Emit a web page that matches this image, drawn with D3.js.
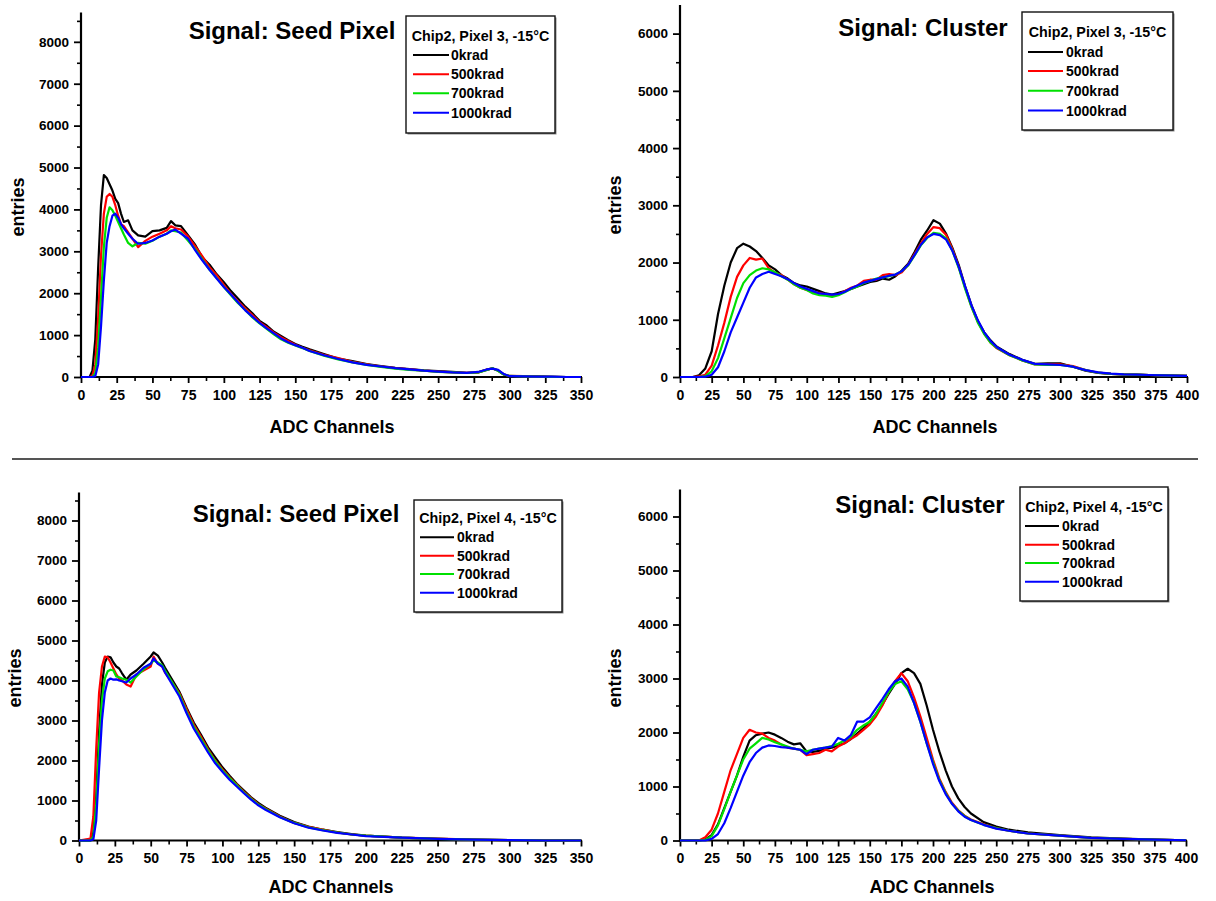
<!DOCTYPE html>
<html>
<head>
<meta charset="utf-8">
<script src="https://cdn.jsdelivr.net/npm/d3@7"></script>
<style>
  html, body { margin: 0; padding: 0; background: #fff; }
  svg { display: block; }
</style>
</head>
<body>
<svg id="chart" width="1216" height="901"></svg>
<script>
// ---------------- DATA ----------------
const seriesNames = ["0krad", "500krad", "700krad", "1000krad"];
const xAxisLabel = "ADC Channels";
const yAxisLabel = "entries";
const titleSeed = "Signal: Seed Pixel";
const titleCluster = "Signal: Cluster";
const legendTitleP3 = "Chip2, Pixel 3, -15°C";
const legendTitleP4 = "Chip2, Pixel 4, -15°C";
const seedXTicks = [0, 25, 50, 75, 100, 125, 150, 175, 200, 225, 250, 275, 300, 325, 350];
const clusterXTicks = [0, 25, 50, 75, 100, 125, 150, 175, 200, 225, 250, 275, 300, 325, 350, 375, 400];
const seedYTicks = [0, 1000, 2000, 3000, 4000, 5000, 6000, 7000, 8000];
const clusterYTicks = [0, 1000, 2000, 3000, 4000, 5000, 6000];

// Panel 1: Seed pixel, Pixel 3
const p1Channels = [0,6,8,10,12,14,16,18,20,22,24,26,28,30,33,36,40,45,50,55,60,63,66,70,75,80,85,90,95,100,105,110,115,120,125,130,135,140,145,150,155,160,170,180,190,200,210,220,230,240,250,260,270,278,284,288,292,296,300,310,320,330,340,350];
const p1Krad0 = [0,0,150,900,2600,4100,4820,4750,4600,4450,4250,4150,3900,3700,3740,3500,3380,3350,3480,3500,3560,3720,3620,3600,3380,3150,2850,2680,2450,2260,2050,1870,1680,1520,1340,1230,1080,980,880,790,720,660,550,440,380,310,260,220,190,160,140,120,100,110,170,210,150,60,20,15,15,5,0,0];
const p1Krad500 = [0,0,30,300,1400,2900,3900,4300,4370,4300,4100,3850,3650,3600,3450,3300,3100,3250,3350,3420,3500,3600,3550,3520,3350,3120,2880,2620,2430,2200,1980,1800,1640,1480,1310,1190,1060,950,860,770,700,640,530,450,360,300,250,210,180,150,130,110,100,110,180,200,160,60,25,20,10,5,0,0];
const p1Krad700 = [0,0,0,100,700,1900,3100,3800,4050,3980,3850,3700,3550,3400,3200,3120,3200,3180,3250,3350,3420,3500,3480,3450,3250,3050,2800,2560,2360,2150,1950,1760,1600,1420,1280,1150,1020,900,820,750,690,620,510,420,350,290,240,200,170,150,120,110,95,110,170,210,150,60,25,15,10,5,0,0];
const p1Krad1000 = [0,0,0,20,300,1200,2300,3200,3600,3850,3900,3800,3650,3550,3420,3300,3180,3200,3260,3350,3420,3480,3520,3420,3300,3020,2780,2560,2350,2150,1970,1780,1590,1440,1290,1160,1040,920,830,760,700,620,520,430,350,290,250,210,180,150,130,110,100,120,180,200,170,70,20,15,10,10,0,0];

// Panel 2: Cluster, Pixel 3
const p2Channels = [0,10,15,20,25,30,35,40,45,50,55,60,65,70,75,80,85,90,95,100,105,110,115,120,125,130,135,140,145,150,155,160,165,170,175,180,185,190,195,200,205,210,215,220,225,230,235,240,245,250,260,270,280,290,300,310,320,330,340,350,360,370,380,390,400];
const p2Krad0 = [0,0,30,150,450,1100,1600,2000,2250,2330,2280,2200,2080,1950,1880,1780,1720,1640,1600,1580,1540,1500,1460,1440,1470,1500,1540,1580,1620,1660,1680,1720,1700,1760,1860,1980,2180,2400,2560,2740,2680,2500,2250,1950,1580,1250,980,780,640,530,400,300,230,240,240,180,110,70,55,45,40,35,30,25,20];
const p2Krad500 = [0,0,10,40,200,550,950,1400,1750,1950,2080,2050,2070,1900,1820,1780,1700,1620,1560,1520,1480,1470,1440,1420,1440,1500,1560,1600,1680,1700,1700,1780,1800,1780,1830,1960,2150,2330,2500,2620,2600,2480,2230,1920,1560,1230,960,760,600,500,380,290,220,220,220,190,120,75,55,45,40,35,30,25,20];
const p2Krad700 = [0,0,0,15,100,330,680,1030,1380,1640,1780,1860,1900,1880,1830,1760,1700,1620,1560,1520,1460,1430,1420,1400,1430,1480,1540,1580,1640,1680,1720,1740,1760,1790,1850,1950,2120,2300,2430,2520,2500,2420,2200,1900,1540,1220,950,750,600,510,380,290,220,210,210,180,120,75,55,45,40,35,30,25,20];
const p2Krad1000 = [0,0,0,5,40,170,450,780,1040,1300,1560,1740,1800,1840,1800,1760,1710,1640,1580,1540,1500,1460,1450,1440,1450,1490,1550,1600,1650,1680,1710,1740,1770,1790,1850,1960,2130,2310,2440,2500,2480,2400,2200,1920,1580,1250,990,780,630,520,390,300,230,220,210,180,120,80,60,45,40,35,30,25,20];

// Panel 3: Seed pixel, Pixel 4
const p3Channels = [0,8,10,12,14,16,18,20,22,24,26,28,30,33,36,40,45,50,52,55,58,60,65,70,75,80,85,90,95,100,105,110,115,120,125,130,140,150,160,170,180,190,200,225,250,275,300,325,350];
const p3Krad0 = [0,0,200,1100,2700,3900,4450,4600,4580,4450,4350,4300,4180,4020,4150,4250,4420,4600,4700,4620,4450,4320,4020,3720,3320,2950,2650,2330,2080,1830,1620,1420,1250,1080,940,820,620,460,350,270,210,160,120,70,40,20,10,0,0];
const p3Krad500 = [0,50,600,2300,3700,4350,4600,4580,4450,4300,4150,4050,4000,3900,3850,4150,4250,4350,4600,4420,4350,4200,3950,3680,3280,2900,2600,2280,2000,1780,1580,1400,1220,1060,910,800,600,440,340,270,200,150,120,70,45,20,10,0,0];
const p3Krad700 = [0,0,100,900,2400,3500,4050,4230,4270,4250,4100,4080,4050,4020,3950,4100,4280,4420,4500,4450,4380,4250,3950,3650,3220,2850,2550,2250,1980,1750,1560,1380,1200,1040,900,790,590,440,330,260,200,150,120,70,40,20,10,0,0];
const p3Krad1000 = [0,0,30,500,1800,3000,3700,4000,4050,4020,4030,4000,3980,3950,4050,4150,4320,4420,4550,4420,4350,4200,3900,3600,3180,2800,2500,2200,1930,1720,1520,1350,1180,1020,880,770,580,430,320,250,190,150,110,70,40,20,10,0,0];

// Panel 4: Cluster, Pixel 4
const p4Channels = [0,15,20,25,30,35,40,45,50,55,60,65,70,75,80,85,90,95,100,105,110,115,120,125,130,135,140,145,150,155,160,165,170,175,180,185,190,195,200,205,210,215,220,225,230,240,250,260,275,300,325,350,375,400];
const p4Krad0 = [0,0,20,100,300,600,900,1200,1550,1850,1950,1980,2000,1960,1900,1830,1780,1800,1650,1640,1660,1700,1720,1760,1800,1880,1980,2080,2200,2350,2520,2720,2900,3100,3180,3100,2900,2500,2050,1650,1300,1000,780,620,500,340,260,200,150,100,60,35,15,5];
const p4Krad500 = [0,0,60,200,500,900,1300,1600,1900,2050,2000,1980,1900,1850,1780,1720,1700,1680,1580,1600,1620,1680,1650,1740,1800,1880,1950,2050,2150,2300,2500,2750,2950,3100,2950,2650,2300,1900,1500,1150,900,700,560,460,390,300,230,180,130,90,50,30,15,5];
const p4Krad700 = [0,0,10,80,280,580,900,1200,1500,1700,1800,1900,1870,1820,1780,1740,1700,1680,1650,1680,1700,1720,1750,1790,1850,1920,2050,2130,2200,2350,2550,2750,2900,2950,2800,2550,2200,1800,1450,1120,880,680,550,450,380,290,230,180,130,90,50,30,15,5];
const p4Krad1000 = [0,0,0,30,120,320,600,900,1200,1450,1620,1720,1760,1750,1730,1720,1700,1680,1600,1680,1700,1720,1740,1900,1850,1950,2200,2200,2280,2450,2620,2800,2950,3000,2850,2550,2200,1800,1420,1100,860,680,540,440,380,290,220,180,130,90,50,30,15,5];

// ---------------- STYLE / LAYOUT ----------------
const seriesColors = ["#000000", "#ff0000", "#00e000", "#0000ff"];
const FONT = "'Liberation Sans', Arial, Helvetica, sans-serif";

const panels = [
  { channels: p1Channels, series: [p1Krad0, p1Krad500, p1Krad700, p1Krad1000],
    xmax: 350, ymax: 8700, xTicks: seedXTicks, yTicks: seedYTicks,
    x0: 81, x1: 581, yBase: 377, yTop: 12.5,
    title: titleSeed, titleX: 292, titleY: 39,
    xLabelX: 332, xLabelY: 433, yLabelX: 24, yLabelY: 207,
    legend: { x: 406, y: 16, w: 149, h: 117, title: legendTitleP3, titleY: 41,
              rows: [55, 74.3, 93.3, 112.7], lx0: 413, lx1: 449, tx: 451 } },
  { channels: p2Channels, series: [p2Krad0, p2Krad500, p2Krad700, p2Krad1000],
    xmax: 400, ymax: 6500, xTicks: clusterXTicks, yTicks: clusterYTicks,
    x0: 680, x1: 1187, yBase: 377, yTop: 5,
    title: titleCluster, titleX: 923, titleY: 36,
    xLabelX: 935, xLabelY: 433, yLabelX: 621, yLabelY: 205,
    legend: { x: 1022, y: 12, w: 151, h: 118, title: legendTitleP3, titleY: 37,
              rows: [52, 71, 90.7, 110.5], lx0: 1028, lx1: 1063, tx: 1066 } },
  { channels: p3Channels, series: [p3Krad0, p3Krad500, p3Krad700, p3Krad1000],
    xmax: 350, ymax: 8700, xTicks: seedXTicks, yTicks: seedYTicks,
    x0: 79, x1: 581, yBase: 840.5, yTop: 492.5,
    title: titleSeed, titleX: 296, titleY: 522,
    xLabelX: 331, xLabelY: 893, yLabelX: 21, yLabelY: 678,
    legend: { x: 414, y: 500, w: 148, h: 112, title: legendTitleP4, titleY: 523,
              rows: [537.3, 555.7, 574, 592.7], lx0: 420, lx1: 454, tx: 457 } },
  { channels: p4Channels, series: [p4Krad0, p4Krad500, p4Krad700, p4Krad1000],
    xmax: 400, ymax: 6500, xTicks: clusterXTicks, yTicks: clusterYTicks,
    x0: 680, x1: 1186, yBase: 840.5, yTop: 489.5,
    title: titleCluster, titleX: 920, titleY: 513,
    xLabelX: 932, xLabelY: 893, yLabelX: 621, yLabelY: 678,
    legend: { x: 1020, y: 487, w: 148, h: 114, title: legendTitleP4, titleY: 512,
              rows: [526, 544.7, 563, 581.7], lx0: 1025, lx1: 1059, tx: 1062 } }
];

const svg = d3.select("#chart");
svg.append("rect").attr("width", 1216).attr("height", 901).attr("fill", "#fff");

// separator line between rows
svg.append("line").attr("x1", 12).attr("x2", 1198).attr("y1", 459).attr("y2", 459)
  .attr("stroke", "#555").attr("stroke-width", 2);

panels.forEach(p => {
  const g = svg.append("g");
  const x = d3.scaleLinear().domain([0, p.xmax]).range([p.x0, p.x1]);
  const y = d3.scaleLinear().domain([0, p.ymax]).range([p.yBase, p.yTop]);

  // minor ticks
  const xMinor = d3.range(12.5, p.xmax, 25);
  const yMinor = d3.range(500, p.ymax, 1000);
  g.append("g").attr("transform", `translate(0,${p.yBase})`)
    .call(d3.axisBottom(x).tickValues(xMinor).tickSize(4).tickSizeOuter(0).tickFormat(""))
    .call(a => a.select(".domain").remove())
    .call(a => a.selectAll("line").attr("stroke", "#000").attr("stroke-width", 1.6));
  g.append("g").attr("transform", `translate(${p.x0},0)`)
    .call(d3.axisLeft(y).tickValues(yMinor).tickSize(4).tickSizeOuter(0).tickFormat(""))
    .call(a => a.select(".domain").remove())
    .call(a => a.selectAll("line").attr("stroke", "#000").attr("stroke-width", 1.6));

  // major axes
  const xAx = g.append("g").attr("transform", `translate(0,${p.yBase})`)
    .call(d3.axisBottom(x).tickValues(p.xTicks).tickSize(6).tickSizeOuter(0).tickPadding(7).tickFormat(d3.format("d")));
  xAx.select(".domain").remove();
  xAx.selectAll("line").attr("stroke", "#000").attr("stroke-width", 1.8);
  xAx.selectAll("text").attr("fill", "#000").style("font-family", FONT)
    .style("font-size", "14px").style("font-weight", "bold");

  const yAx = g.append("g").attr("transform", `translate(${p.x0},0)`)
    .call(d3.axisLeft(y).tickValues(p.yTicks).tickSize(7).tickSizeOuter(0).tickPadding(5).tickFormat(d3.format("d")));
  yAx.select(".domain").remove();
  yAx.selectAll("line").attr("stroke", "#000").attr("stroke-width", 1.8);
  yAx.selectAll("text").attr("fill", "#000").style("font-family", FONT)
    .style("font-size", "13.5px").style("font-weight", "bold");

  // axis lines
  g.append("line").attr("x1", p.x0).attr("x2", p.x0).attr("y1", p.yTop).attr("y2", p.yBase + 1)
    .attr("stroke", "#000").attr("stroke-width", 2.2);
  g.append("line").attr("x1", p.x0 - 1).attr("x2", p.x1 + 1).attr("y1", p.yBase).attr("y2", p.yBase)
    .attr("stroke", "#000").attr("stroke-width", 2.2);

  // data lines
  const line = d3.line().x((d, i) => x(p.channels[i])).y(d => y(d)).curve(d3.curveLinear);
  p.series.forEach((s, k) => {
    g.append("path").datum(s).attr("d", line).attr("fill", "none")
      .attr("stroke", seriesColors[k]).attr("stroke-width", 2.2).attr("stroke-linejoin", "round");
  });

  // title
  g.append("text").attr("x", p.titleX).attr("y", p.titleY).attr("text-anchor", "middle")
    .style("font-family", FONT).style("font-size", "24px").style("font-weight", "bold")
    .text(p.title);

  // axis labels
  g.append("text").attr("x", p.xLabelX).attr("y", p.xLabelY).attr("text-anchor", "middle")
    .style("font-family", FONT).style("font-size", "18px").style("font-weight", "bold")
    .text(xAxisLabel);
  g.append("text").attr("transform", `translate(${p.yLabelX},${p.yLabelY}) rotate(-90)`)
    .attr("text-anchor", "middle")
    .style("font-family", FONT).style("font-size", "18px").style("font-weight", "bold")
    .text(yAxisLabel);

  // legend
  const L = p.legend;
  g.append("rect").attr("x", L.x + 1.5).attr("y", L.y + 1.5).attr("width", L.w).attr("height", L.h)
    .attr("fill", "#888");
  g.append("rect").attr("x", L.x).attr("y", L.y).attr("width", L.w).attr("height", L.h)
    .attr("fill", "#fff").attr("stroke", "#111").attr("stroke-width", 1.4);
  g.append("text").attr("x", L.x + L.w / 2).attr("y", L.titleY).attr("text-anchor", "middle")
    .style("font-family", FONT).style("font-size", "14.3px").style("font-weight", "bold")
    .text(L.title);
  seriesNames.forEach((name, k) => {
    g.append("line").attr("x1", L.lx0).attr("x2", L.lx1).attr("y1", L.rows[k]).attr("y2", L.rows[k])
      .attr("stroke", seriesColors[k]).attr("stroke-width", 2);
    g.append("text").attr("x", L.tx).attr("y", L.rows[k] + 5)
      .style("font-family", FONT).style("font-size", "14px").style("font-weight", "bold")
      .text(name);
  });
});
</script>
</body>
</html>
